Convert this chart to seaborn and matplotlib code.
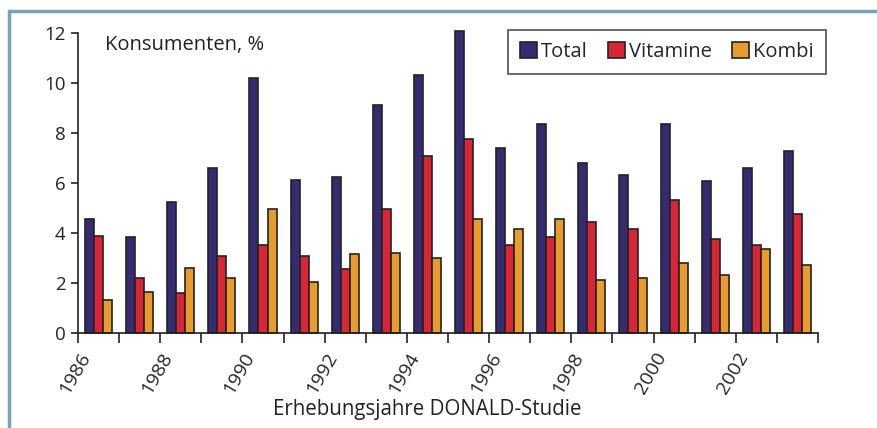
import matplotlib
matplotlib.use("Agg")
import matplotlib.pyplot as plt
import seaborn as sns
import pandas as pd

years = [str(y) for y in range(1986, 2004)]
total = [4.56, 3.83, 5.24, 6.61, 10.2, 6.13, 6.25, 9.12, 10.32, 12.08,
         7.41, 8.37, 6.81, 6.32, 8.36, 6.07, 6.61, 7.28]
vitamine = [3.88, 2.2, 1.59, 3.08, 3.53, 3.08, 2.55, 4.97, 7.07, 7.75,
            3.53, 3.83, 4.43, 4.15, 5.31, 3.76, 3.53, 4.77]
kombi = [1.31, 1.65, 2.61, 2.2, 4.97, 2.05, 3.15, 3.21, 3.01, 4.56,
         4.15, 4.57, 2.12, 2.19, 2.8, 2.33, 3.35, 2.73]
series = ["Total", "Vitamine", "Kombi"]
colors = ["#352b70", "#d92636", "#e89c2e"]
year_labels = [y if int(y) % 2 == 0 else "" for y in years]

df = pd.DataFrame({
    "Jahr": years * 3,
    "Wert": total + vitamine + kombi,
    "Gruppe": [s for s in series for _ in years],
})

sns.set_theme(style="white")
plt.rcParams["font.family"] = ["Open Sans", "DejaVu Sans"]

fig = plt.figure(figsize=(8.77, 4.28), dpi=100)
ax = fig.add_axes([78 / 877, 95 / 428, 740 / 877, 300 / 428])

sns.barplot(data=df, x="Jahr", y="Wert", hue="Gruppe", order=years,
            hue_order=series, palette=colors, width=0.66, saturation=1,
            edgecolor="#222222", linewidth=1.2, ax=ax, legend=True)
for bar in ax.patches:
    bar.set_clip_on(False)

ax.set_xlim(-0.5, len(years) - 0.5)
ax.set_ylim(0, 12)
ax.set_yticks(range(0, 13, 2))
ax.tick_params(axis="y", labelsize=13.5, length=5, width=1.2, color="#222222",
               direction="out", left=True, pad=4)

# tick marks between categories, rotated year labels under each category
ax.set_xticks([i - 0.5 for i in range(len(years) + 1)])
ax.set_xticklabels([])
ax.tick_params(axis="x", which="major", length=7, width=1.2, color="#222222",
               direction="out", bottom=True)
ax.set_xticks([i - 0.3 for i in range(len(years))], minor=True)
ax.set_xticklabels(year_labels, minor=True, rotation=60, ha="right",
                   va="center", rotation_mode="anchor", fontsize=14)
ax.tick_params(axis="x", which="minor", length=0, pad=15)

for side in ["top", "right"]:
    ax.spines[side].set_visible(False)
for side in ["left", "bottom"]:
    ax.spines[side].set_color("#222222")
    ax.spines[side].set_linewidth(1.2)

ax.set_xlabel("")
ax.set_ylabel("")
fig.text(427 / 877, 1 - 410 / 428, "Erhebungsjahre DONALD-Studie",
         ha="center", va="center", fontsize=14.8, color="#222222")
fig.text(105 / 877, 1 - 45 / 428, "Konsumenten, %", ha="left", va="center",
         fontsize=14.5, color="#222222")

leg = ax.legend(loc="upper left", bbox_to_anchor=(508 / 877, 1 - 30 / 428),
                bbox_transform=fig.transFigure, borderaxespad=0, ncol=3,
                fontsize=14.5, frameon=True, fancybox=False,
                edgecolor="#222222", handlelength=0.85, handleheight=0.85,
                handletextpad=0.2, columnspacing=1.0, borderpad=0.6,
                title=None)
leg.get_frame().set_linewidth(1.2)

# frame lines along the top and left edge of the figure
fig.add_artist(plt.Line2D([9 / 877, 1], [1 - 11 / 428, 1 - 11 / 428],
                          transform=fig.transFigure, color="#7ba1b6", lw=2.5))
fig.add_artist(plt.Line2D([9 / 877, 9 / 877], [0, 1 - 11 / 428],
                          transform=fig.transFigure, color="#7ba1b6", lw=2.5))

fig.savefig("out.png", dpi=100)
